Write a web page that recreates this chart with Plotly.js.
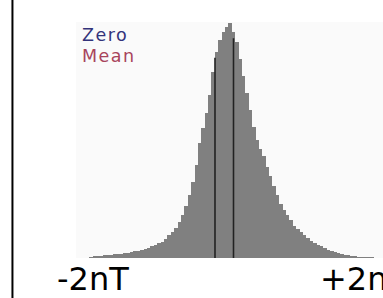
<!DOCTYPE html>
<html>
<head>
<meta charset="utf-8">
<script src="https://cdn.plot.ly/plotly-3.0.1.min.js"></script>
<style>
html,body{margin:0;padding:0;overflow:hidden;background:#fff;}
#chart{width:383px;height:298px;}
</style>
</head>
<body>
<div id="chart"></div>
<script>
// Bin centres (nT)
var binCenters = [-2.1,-2.05,-2.0,-1.95,-1.9,-1.85,-1.8,-1.75,-1.7,-1.65,-1.6,-1.55,-1.5,-1.45,-1.4,-1.35,-1.3,-1.25,-1.2,-1.15,-1.1,-1.05,-1.0,-0.95,-0.9,-0.85,-0.8,-0.75,-0.7,-0.65,-0.6,-0.55,-0.5,-0.45,-0.4,-0.35,-0.3,-0.25,-0.2,-0.15,-0.1,-0.05,0,0.05,0.1,0.15,0.2,0.25,0.3,0.35,0.4,0.45,0.5,0.55,0.6,0.65,0.7,0.75,0.8,0.85,0.9,0.95,1.0,1.05,1.1,1.15,1.2,1.25,1.3,1.35,1.4,1.45,1.5,1.55,1.6,1.65,1.7,1.75,1.8,1.85,1.9,1.95,2.0,2.05];
// Counts per bin (relative)
var counts = [6,7,8,9,11,12,13,15,17,18,20,23,25,28,31,34,38,43,49,54,62,70,81,96,111,126,151,181,223,266,321,394,487,551,615,691,789,874,925,960,981,998,960,917,845,772,700,628,555,500,462,432,385,347,308,266,228,202,181,160,138,123,111,98,85,74,64,55,49,43,36,30,26,21,17,14,11,10,8,6,5,4,3,3];
// Reference lines
var lineNames = ["Zero","Mean"];
var lineValues = [0, -0.273];
var lineHeights = [934, 851];
var legendColors = ["#33337a","#a8445c"];
// Axis end labels
var tickLabels = ["-2nT","+2nT"];

var shapes = [];
for (var i = 0; i < lineValues.length; i++) {
  shapes.push({type:'line', xref:'x', yref:'y', x0:lineValues[i], x1:lineValues[i], y0:0, y1:lineHeights[i],
    line:{color:'#222222', width:1.6}});
}
// left page border
shapes.push({type:'line', xref:'paper', yref:'paper', x0:-0.207, x1:-0.207, y0:-0.2, y1:1.12,
  line:{color:'#000000', width:2}});

var legendY = [0.943, 0.858];
var annotations = [
  {text:tickLabels[0], xref:'paper', yref:'paper', x:0.0544, y:-0.089, xanchor:'center', yanchor:'middle', showarrow:false,
   font:{family:'DejaVu Sans', size:32, color:'#000'}},
  {text:tickLabels[1], xref:'paper', yref:'paper', x:0.938, y:-0.089, xanchor:'center', yanchor:'middle', showarrow:false,
   font:{family:'DejaVu Sans', size:32, color:'#000'}}
];
for (var j = 0; j < lineNames.length; j++) {
  annotations.push({text:"<span style='letter-spacing:1.5px'>" + lineNames[j] + "</span>",
    xref:'paper', yref:'paper', x:0.014, y:legendY[j], xanchor:'left', yanchor:'middle', showarrow:false,
    font:{family:'DejaVu Sans', size:17.5, color:legendColors[j]}});
}

Plotly.newPlot('chart', [{
  type:'bar', x:binCenters, y:counts,
  marker:{color:'#808080', line:{width:0}},
  hoverinfo:'skip'
}], {
  width:383, height:298,
  margin:{l:76, r:0, t:22, b:40, pad:0},
  paper_bgcolor:'#ffffff', plot_bgcolor:'#fafafa',
  bargap:0, showlegend:false,
  xaxis:{range:[-2.323, 2.205], showgrid:false, zeroline:false, showticklabels:false, ticks:'', showline:false},
  yaxis:{range:[0, 1003], showgrid:false, zeroline:false, showticklabels:false, ticks:'', showline:false},
  shapes:shapes,
  annotations:annotations
}, {staticPlot:true, displayModeBar:false});
</script>
</body>
</html>
